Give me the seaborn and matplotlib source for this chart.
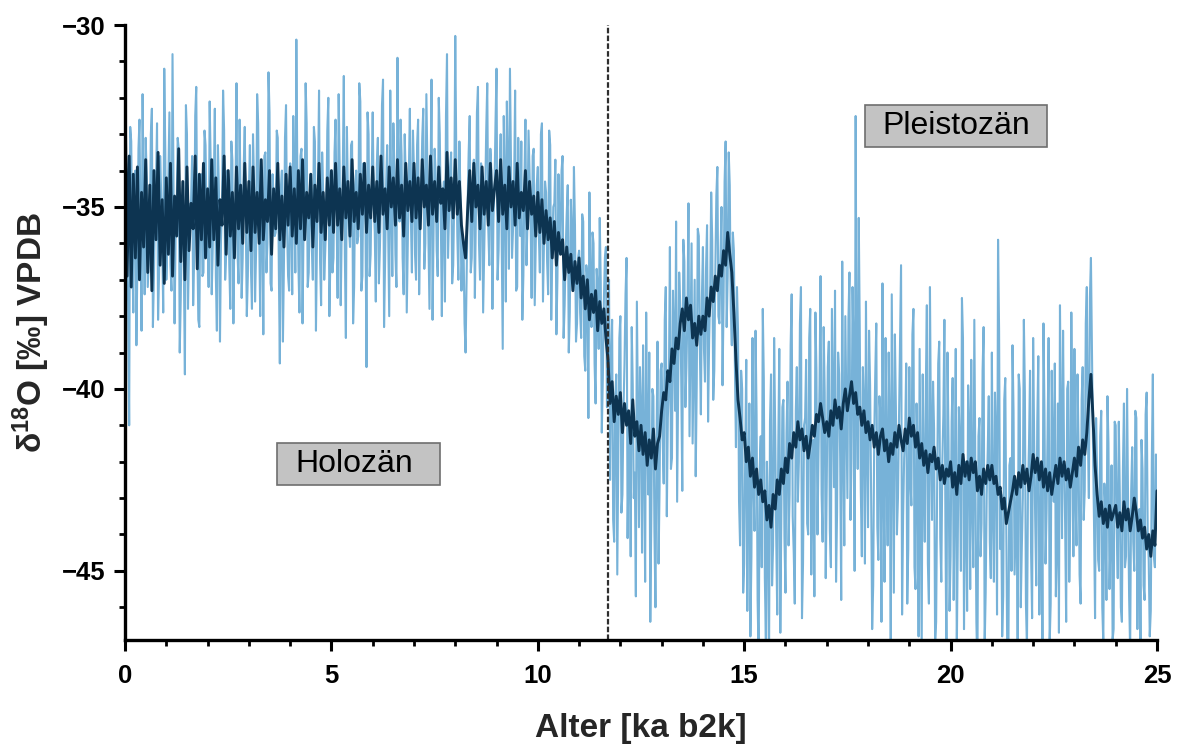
import numpy as np
import pandas as pd
import matplotlib
matplotlib.use("Agg")
import matplotlib.pyplot as plt
from matplotlib.patches import Rectangle
import seaborn as sns

# ---------------- data ----------------
# raw d18O record, samples at 0.00, 0.05, ... 25.00 ka b2k
light_d18o = [
    -30.2, -36.8, -41.0, -33.2, -37.9, -34.0, -36.5, -32.6, -38.4, -34.9, -33.1, -37.2, -35.8, -32.3, -36.9, -34.4, -38.1, -33.6, -35.9, -31.2,
    -37.0, -34.2, -36.6, -30.8, -38.2, -35.1, -33.4, -37.5, -34.7, -39.6, -33.0, -36.2, -34.8, -37.7, -32.5, -35.9, -38.3, -34.1, -36.8, -33.3,
    -35.6, -32.1, -37.4, -34.5, -36.9, -33.3, -38.7, -35.0, -32.9, -36.3, -34.1, -37.8, -33.7, -35.5, -31.6, -37.1, -34.9, -36.4, -32.8, -38.0,
    -34.6, -36.7, -33.0, -37.6, -31.9, -35.8, -34.2, -38.5, -33.5, -36.0, -32.4, -37.3, -34.8, -35.7, -33.1, -39.3, -34.0, -36.5, -32.2, -36.9,
    -33.8, -37.4, -34.5, -30.4, -36.6, -33.6, -38.2, -35.2, -32.7, -36.8, -34.1, -37.0, -33.2, -35.9, -31.8, -37.7, -34.6, -36.2, -32.9, -38.0,
    -34.3, -36.4, -32.6, -37.5, -33.9, -35.6, -31.4, -38.6, -34.7, -36.1, -33.2, -37.2, -34.0, -35.8, -32.1, -36.9, -34.5, -39.4, -33.0, -36.3,
    -32.4, -35.7, -33.8, -37.1, -34.6, -31.5, -36.5, -33.3, -38.0, -34.9, -32.7, -36.3, -30.9, -35.4, -33.6, -37.4, -34.2, -35.9, -32.3, -36.8,
    -34.0, -37.0, -32.6, -35.5, -33.1, -36.7, -31.9, -35.9, -34.4, -38.1, -33.4, -36.2, -32.0, -35.3, -34.8, -37.6, -30.8, -35.1, -33.5, -36.6,
    -30.3, -35.8, -33.2, -37.3, -36.0, -39.0, -34.9, -32.5, -36.4, -33.7, -35.2, -31.7, -37.0, -34.1, -36.3, -32.9, -35.6, -33.4, -37.8, -34.5,
    -31.2, -36.2, -33.0, -38.9, -34.3, -32.1, -36.7, -33.8, -35.6, -31.8, -37.2, -34.6, -33.2, -36.9, -32.6, -35.4, -34.0, -37.5, -33.4, -36.1,
    -33.9, -36.8, -32.7, -35.9, -34.6, -37.4, -33.3, -36.3, -34.9, -38.5, -34.1, -36.0, -33.6, -37.7, -35.2, -39.0, -34.8, -37.1, -35.5, -38.2,
    -36.2, -38.6, -35.4, -39.5, -36.9, -34.6, -38.3, -36.0, -40.4, -37.2, -35.3, -41.2, -37.6, -36.1, -39.8, -42.5, -38.1, -44.2, -39.6, -41.8,
    -38.0, -42.9, -39.3, -36.4, -41.7, -44.6, -39.9, -42.3, -37.6, -43.8, -40.5, -38.8, -45.3, -41.2, -39.0, -43.5, -40.2, -46.0, -38.7, -42.7,
    -39.3, -42.6, -37.2, -40.8, -36.1, -41.9, -38.5, -35.4, -40.1, -37.7, -42.8, -36.5, -39.4, -34.9, -38.6, -41.5, -37.0, -39.9, -35.8, -40.7,
    -36.1, -39.8, -35.5, -38.7, -34.6, -40.3, -36.8, -33.9, -38.2, -35.0, -37.6, -33.2, -36.9, -34.4, -38.8, -36.2, -41.6, -38.4, -44.3, -40.0,
    -44.8, -39.2, -42.5, -46.8, -38.6, -43.9, -40.7, -47.5, -41.3, -37.8, -45.2, -42.0, -47.9, -39.6, -44.3, -41.1, -46.2, -38.9, -43.4, -40.3,
    -45.6, -39.8, -42.9, -37.4, -44.5, -40.6, -43.1, -38.2, -46.3, -41.0, -39.2, -44.0, -37.8, -42.4, -45.7, -39.5, -41.8, -36.9, -44.2, -40.1,
    -42.6, -38.7, -44.9, -40.2, -37.3, -43.4, -39.6, -45.8, -41.5, -38.0, -43.0, -36.8, -41.9, -39.1, -32.5, -42.2, -38.4, -44.6, -40.4, -37.6,
    -43.8, -39.9, -46.6, -41.3, -38.2, -44.7, -40.7, -37.1, -45.3, -42.1, -39.0, -46.9, -41.6, -38.5, -44.0, -40.9, -36.6, -43.5, -41.2, -45.9,
    -39.4, -43.2, -37.8, -45.5, -41.8, -38.9, -47.2, -42.4, -40.0, -44.8, -37.2, -43.6, -41.1, -46.4, -39.3, -44.1, -42.0, -38.1, -47.6, -41.4,
    -44.6, -39.7, -42.8, -47.3, -40.5, -45.0, -38.6, -43.3, -46.1, -41.0, -39.2, -44.9, -42.2, -47.8, -40.8, -43.7, -38.3, -45.6, -41.7, -44.2,
    -39.0, -45.3, -41.4, -35.9, -44.4, -46.8, -40.3, -43.9, -47.4, -41.9, -38.8, -45.1, -42.6, -39.6, -46.0, -43.0, -40.1, -47.1, -41.5, -44.5,
    -38.6, -43.6, -40.9, -46.2, -42.3, -38.2, -44.8, -41.2, -47.0, -39.5, -43.1, -45.7, -40.4, -37.7, -44.1, -42.0, -46.4, -39.8, -43.4, -41.0,
    -38.9, -44.3, -41.6, -45.9, -39.4, -42.8, -37.2, -43.0, -36.4, -41.5, -46.3, -42.4, -45.0, -40.6, -47.0, -43.2, -40.2, -45.5, -42.1, -46.6,
    -41.0, -45.2, -42.9, -46.4, -40.4, -44.6, -43.1, -47.2, -41.6, -45.0, -40.8, -44.1, -46.9, -42.2, -45.8, -40.1, -44.7, -46.1, -39.6, -44.9,
    -43.5,
]

# raw d18O record, in-between samples at 0.025, 0.075, ... 24.975 ka b2k
light_d18o_mid = [
    -33.9, -37.6, -32.8, -36.2, -34.5, -38.8, -33.4, -35.7, -31.9, -37.4, -34.2, -36.5, -33.0, -38.3, -35.1, -32.7, -36.8, -34.6, -37.9, -33.5,
    -36.0, -32.4, -37.3, -34.4, -35.8, -33.1, -39.0, -34.9, -36.7, -32.2, -37.8, -35.0, -33.6, -36.4, -31.7, -38.1, -34.3, -36.9, -32.9, -35.4,
    -37.2, -33.8, -36.1, -32.3, -38.4, -34.6, -35.9, -31.8, -37.0, -34.0, -36.6, -33.2, -38.2, -34.8, -36.3, -32.6, -37.5, -33.9, -35.3, -36.9,
    -33.3, -37.8, -34.3, -36.2, -32.7, -38.0, -35.0, -33.6, -36.8, -31.3, -37.1, -34.1, -35.8, -32.9, -36.6, -34.5, -38.7, -33.1, -35.6, -37.3,
    -35.1, -32.5, -36.8, -34.2, -37.9, -33.4, -35.5, -31.6, -37.2, -34.8, -36.1, -32.8, -38.4, -34.3, -36.5, -33.5, -37.0, -35.3, -32.0, -36.4,
    -36.8, -33.5, -35.2, -31.9, -37.7, -34.1, -36.3, -32.8, -35.6, -33.3, -38.2, -34.4, -36.0, -31.6, -37.3, -33.8, -35.5, -32.4, -36.9, -34.2,
    -34.9, -37.6, -33.1, -36.1, -32.2, -38.3, -34.4, -35.7, -31.8, -36.9, -33.9, -37.2, -34.6, -32.6, -36.4, -33.0, -37.9, -34.1, -35.3, -32.9,
    -36.3, -33.3, -37.4, -34.6, -32.3, -36.0, -33.8, -37.8, -31.5, -35.6, -34.1, -36.9, -33.0, -38.0, -34.3, -32.5, -36.4, -33.9, -37.1, -34.8,
    -33.6, -37.0, -34.7, -36.1, -38.2, -36.9, -33.5, -36.8, -34.2, -37.5, -32.4, -36.0, -33.8, -37.9, -34.7, -31.6, -36.6, -34.0, -35.3, -32.7,
    -37.0, -34.1, -35.9, -32.5, -37.6, -33.9, -31.2, -36.4, -34.5, -37.3, -33.1, -35.8, -38.1, -34.3, -36.6, -32.9, -35.2, -33.6, -37.7, -34.4,
    -35.8, -33.0, -37.6, -34.3, -36.5, -32.9, -38.1, -35.0, -33.7, -37.0, -35.6, -34.0, -38.6, -36.2, -34.4, -37.9, -35.8, -33.9, -38.7, -36.4,
    -37.9, -35.2, -39.1, -36.6, -40.8, -37.5, -35.7, -39.3, -36.7, -38.9, -37.1, -39.7, -36.4, -40.5, -37.0, -39.2, -43.6, -40.3, -45.1, -38.6,
    -43.4, -40.6, -37.4, -44.1, -41.0, -38.3, -43.0, -45.7, -40.7, -39.4, -44.5, -41.8, -37.9, -42.9, -46.4, -40.0, -43.9, -41.6, -44.8, -39.5,
    -41.4, -38.1, -43.5, -39.9, -42.2, -37.3, -40.6, -43.1, -36.8, -39.8, -35.9, -40.5, -37.9, -41.3, -36.0, -39.2, -42.4, -35.6, -38.9, -37.5,
    -38.9, -36.7, -40.9, -37.4, -35.9, -39.5, -34.7, -38.0, -36.4, -39.9, -34.3, -38.3, -33.5, -37.8, -35.7, -39.4, -37.2, -43.1, -39.5, -45.6,
    -41.8, -46.1, -40.4, -44.6, -42.6, -38.4, -45.8, -42.2, -44.9, -39.7, -46.9, -43.5, -40.9, -45.4, -38.6, -44.0, -41.7, -46.7, -40.5, -44.1,
    -41.2, -44.3, -38.8, -43.5, -45.9, -39.4, -42.0, -37.2, -44.8, -40.8, -43.7, -38.6, -45.1, -41.4, -37.9, -44.0, -39.9, -42.9, -38.3, -45.2,
    -39.4, -43.9, -37.8, -42.7, -45.3, -39.0, -41.9, -36.5, -44.3, -40.6, -38.1, -43.6, -37.2, -45.0, -40.2, -35.3, -42.8, -39.4, -44.8, -41.5,
    -38.4, -42.9, -45.4, -39.6, -43.8, -40.2, -46.4, -42.6, -38.6, -44.3, -41.0, -37.4, -45.6, -40.5, -43.0, -38.9, -46.2, -41.9, -39.3, -44.4,
    -42.5, -38.5, -44.9, -40.4, -46.8, -42.9, -39.6, -44.2, -37.7, -45.9, -41.3, -39.8, -47.0, -42.6, -38.7, -45.3, -40.7, -43.8, -39.0, -46.1,
    -40.9, -45.8, -38.9, -44.1, -41.6, -37.5, -46.6, -42.0, -39.9, -45.5, -43.1, -38.1, -46.4, -41.3, -44.6, -39.5, -47.1, -42.9, -40.2, -45.2,
    -43.4, -40.1, -46.2, -38.4, -42.9, -45.7, -39.7, -47.6, -42.1, -45.0, -40.6, -43.8, -47.2, -40.0, -44.4, -38.1, -45.9, -42.8, -39.5, -46.3,
    -41.5, -45.4, -39.1, -43.9, -46.9, -40.7, -43.4, -38.6, -45.9, -41.8, -39.3, -44.4, -46.7, -41.1, -38.4, -43.7, -40.0, -45.3, -37.9, -44.6,
    -42.9, -39.6, -45.1, -40.3, -43.6, -38.2, -41.1, -37.5, -39.0, -43.7, -40.8, -44.7, -41.3, -46.0, -42.6, -45.8, -41.5, -44.0, -46.9, -40.9,
    -43.8, -40.9, -46.0, -42.2, -44.9, -40.0, -45.7, -42.8, -44.2, -40.6, -46.6, -43.3, -41.4, -45.4, -40.7, -43.9, -46.8, -42.0, -44.6, -41.8,
]

# smoothed d18O record, one value every 0.05 ka from 0 to 25 ka b2k
dark_d18o = [
    -31.8, -36.9, -33.6, -37.2, -34.1, -36.4, -33.9, -37.0, -34.6, -36.1, -33.7, -36.8, -34.4, -37.3, -34.0, -35.9, -33.5, -36.6, -34.8, -37.1,
    -34.2, -36.3, -33.8, -36.9, -34.7, -35.8, -33.4, -36.5, -34.3, -37.0, -33.9, -36.2, -34.9, -35.6, -33.6, -36.7, -34.1, -35.9, -33.8, -36.4,
    -34.5, -36.1, -33.7, -35.9, -34.2, -36.6, -34.8, -35.5, -33.6, -36.3, -34.0, -35.8, -34.6, -36.4, -33.9, -35.6, -34.4, -36.0, -33.8, -35.7,
    -34.3, -36.2, -33.9, -35.7, -34.6, -36.0, -33.7, -35.9, -34.8, -35.4, -34.0, -36.3, -34.5, -35.6, -33.8, -35.9, -34.7, -36.1, -34.1, -35.5,
    -33.9, -35.8, -34.5, -36.0, -34.0, -35.6, -33.7, -35.9, -34.6, -35.3, -34.1, -36.1, -34.4, -35.4, -33.8, -35.7, -34.6, -35.9, -34.2, -35.5,
    -34.0, -35.7, -33.8, -35.5, -34.5, -35.9, -33.9, -35.3, -34.3, -35.8, -33.7, -35.4, -34.6, -35.6, -34.1, -35.2, -33.8, -35.7, -34.4, -35.3,
    -33.9, -35.4, -34.3, -35.7, -33.6, -35.2, -34.5, -35.6, -33.9, -35.0, -34.2, -35.5, -33.7, -35.3, -34.4, -35.8, -33.8, -35.1, -34.3, -35.4,
    -33.8, -35.3, -34.2, -35.6, -33.7, -35.0, -34.4, -35.5, -33.6, -35.2, -34.3, -35.4, -33.9, -34.9, -34.5, -35.6, -33.5, -35.1, -34.2, -35.3,
    -33.7, -35.2, -34.3, -35.5, -36.0, -36.4, -35.1, -34.0, -35.4, -33.8, -35.0, -34.4, -35.6, -33.9, -35.2, -34.3, -35.5, -33.8, -35.1, -34.5,
    -34.0, -35.4, -33.7, -35.2, -34.4, -35.6, -33.9, -35.0, -34.3, -35.5, -33.8, -35.3, -34.6, -35.1, -34.0, -35.6, -34.3, -35.2, -34.7, -35.8,
    -34.6, -35.7, -34.8, -36.0, -35.1, -35.9, -35.3, -36.4, -35.4, -36.6, -35.7, -36.3, -35.9, -37.0, -36.1, -36.8, -36.3, -37.3, -36.5, -37.1,
    -36.4, -37.5, -36.9, -37.8, -37.0, -38.1, -37.4, -37.9, -37.3, -38.4, -37.6, -38.2, -37.8, -38.6, -39.2, -40.4, -39.8, -40.9, -40.2, -40.7,
    -40.1, -41.2, -40.4, -41.0, -40.6, -41.5, -40.3, -41.3, -40.9, -41.7, -41.0, -41.8, -41.2, -42.1, -41.4, -41.9, -41.1, -42.2, -41.5, -41.3,
    -40.6, -40.1, -40.3, -39.5, -39.8, -38.9, -39.3, -38.6, -38.9, -38.2, -37.8, -38.4, -37.5, -38.1, -37.7, -38.6, -38.2, -38.8, -38.0, -38.5,
    -38.0, -38.4, -37.5, -38.0, -37.2, -37.6, -36.9, -37.3, -36.6, -36.9, -36.2, -36.6, -35.7, -36.3, -36.8, -37.9, -39.2, -40.3, -40.8, -41.4,
    -41.2, -42.0, -41.6, -42.4, -41.9, -42.7, -42.2, -42.9, -42.5, -43.1, -42.8, -43.6, -43.2, -43.8, -42.9, -43.3, -42.5, -42.9, -42.2, -42.6,
    -41.9, -42.3, -41.5, -41.9, -41.2, -41.6, -40.9, -41.4, -41.1, -41.7, -41.3, -41.9, -41.5, -41.0, -41.3, -40.7, -40.9, -40.4, -40.8, -41.2,
    -40.9, -41.3, -40.6, -41.0, -40.3, -40.8, -40.5, -41.1, -40.4, -40.0, -40.6, -40.2, -39.8, -40.4, -40.1, -40.7, -40.5, -41.0, -40.6, -41.2,
    -40.9, -41.4, -41.0, -41.6, -41.2, -41.8, -41.3, -41.1, -41.7, -41.4, -42.0, -41.5, -41.8, -41.2, -41.6, -41.0, -41.4, -41.7, -41.1, -41.5,
    -40.8, -41.3, -41.0, -41.6, -41.2, -41.9, -41.5, -42.1, -41.7, -42.3, -41.8, -42.0, -41.6, -42.2, -41.9, -42.5, -42.1, -42.6, -42.2, -42.4,
    -42.0, -42.7, -42.3, -42.9, -42.1, -42.6, -41.8, -42.4, -42.0, -42.5, -41.9, -42.3, -42.0, -42.8, -42.4, -42.9, -42.2, -42.6, -42.1, -42.5,
    -42.1, -42.6, -42.4, -42.9, -42.7, -43.3, -43.0, -43.7, -43.4, -43.1, -42.8, -42.4, -42.9, -42.3, -42.7, -42.1, -42.6, -42.2, -42.8, -42.4,
    -41.8, -42.3, -41.9, -42.5, -42.0, -42.7, -42.2, -42.8, -42.3, -42.9, -42.5, -42.1, -42.6, -41.9, -42.4, -42.0, -42.5, -42.2, -42.7, -42.3,
    -41.9, -42.4, -41.6, -42.1, -41.4, -41.8, -41.2, -40.3, -39.6, -40.8, -42.1, -42.9, -43.5, -43.1, -43.7, -43.3, -43.8, -43.2, -43.6, -43.4,
    -43.2, -43.8, -43.4, -43.9, -43.1, -43.6, -43.3, -43.9, -43.5, -43.0, -43.4, -43.9, -43.6, -44.1, -43.8, -44.4, -44.0, -44.6, -43.9, -44.3,
    -42.8,
]

age_start, age_end = 0.0, 25.0
boundary_age = 11.7
x_ticks = [0, 5, 10, 15, 20, 25]
y_ticks = [-45, -40, -35, -30]
x_label = "Alter [ka b2k]"
y_label = r"δ$^{18}$O [‰] VPDB"
period_labels = ["Holozän", "Pleistozän"]

raw_df = pd.concat([
    pd.DataFrame({"age": np.linspace(age_start, age_end, len(light_d18o)),
                  "d18o": light_d18o}),
    pd.DataFrame({"age": np.linspace(0.025, 24.975, len(light_d18o_mid)),
                  "d18o": light_d18o_mid}),
]).sort_values("age").reset_index(drop=True)
dark_df = pd.DataFrame({"age": np.linspace(age_start, age_end, len(dark_d18o)),
                        "d18o": dark_d18o})

# ---------------- style ----------------
sns.set_style("ticks")
plt.rcParams["font.family"] = ["Liberation Sans", "DejaVu Sans"]
plt.rcParams["mathtext.fontset"] = "custom"
plt.rcParams["mathtext.rm"] = "Liberation Sans:bold"
plt.rcParams["mathtext.bf"] = "Liberation Sans:bold"
plt.rcParams["mathtext.it"] = "Liberation Sans:bold"

fig = plt.figure(figsize=(11.83, 7.47), dpi=100)
ax = fig.add_axes([0.1057, 0.1432, 0.8723, 0.8233])

sns.lineplot(data=raw_df, x="age", y="d18o", ax=ax, color="#64a8d3",
             linewidth=1.5, alpha=0.88, estimator=None, sort=False)
sns.lineplot(data=dark_df, x="age", y="d18o", ax=ax, color="#0d3451",
             linewidth=2.1, estimator=None, sort=False)

ax.axvline(boundary_age, color="#2e2e2e", linewidth=1.6, linestyle=(0, (2.5, 1)))

ax.set_xlim(age_start, age_end)
ax.set_ylim(-46.9, -30)
ax.set_xticks(x_ticks)
ax.set_yticks(y_ticks)
ax.xaxis.set_minor_locator(matplotlib.ticker.MultipleLocator(1))
ax.yaxis.set_minor_locator(matplotlib.ticker.MultipleLocator(1))
ax.set_xticklabels([str(v) for v in x_ticks])
ax.set_yticklabels([f"\u2212{abs(v)}" for v in y_ticks])

for s in ["top", "right"]:
    ax.spines[s].set_visible(False)
for s in ["left", "bottom"]:
    ax.spines[s].set_linewidth(2.4)
    ax.spines[s].set_color("black")

ax.tick_params(axis="both", which="major", direction="out", length=8, width=2.2,
               labelsize=18.5, colors="black")
ax.tick_params(axis="x", which="major", pad=9)
ax.tick_params(axis="y", which="major", pad=6)
ax.tick_params(axis="both", which="minor", direction="out", length=4.5, width=2.0,
               colors="black")
for lab in ax.get_xticklabels() + ax.get_yticklabels():
    lab.set_fontweight("bold")

ax.set_xlabel(x_label, fontsize=24, fontweight="bold", labelpad=18)
ax.set_ylabel(y_label, fontsize=24, fontweight="bold", labelpad=7)

# period boxes (axes-fraction layout) with centred labels
box_specs = [((0.1473, 0.252), 0.1579, 0.0683, (0.2219, 0.2862)),
             ((0.7170, 0.8016), 0.1764, 0.0683, (0.8052, 0.8358))]
for txt, (xy, w, h, tpos) in zip(period_labels, box_specs):
    ax.add_patch(Rectangle(xy, w, h, transform=ax.transAxes, facecolor="#c3c3c3",
                           edgecolor="#6e6e6e", linewidth=1.2, zorder=5))
    ax.text(tpos[0], tpos[1], txt, transform=ax.transAxes, fontsize=23,
            ha="center", va="center", color="black", zorder=6)

fig.savefig("out.png", dpi=100)
